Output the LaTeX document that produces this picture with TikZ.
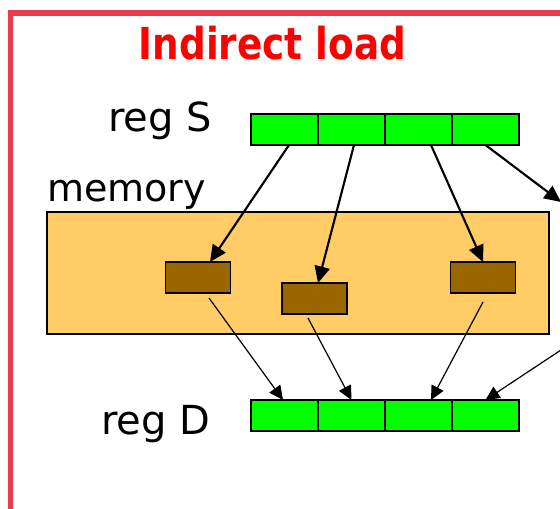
\documentclass[tikz,border=0pt]{standalone}
\usepackage{fontspec}
\setmainfont{DejaVu Sans}
\newfontfamily\titlefont[FakeStretch=0.85]{DejaVu Sans}
\usetikzlibrary{arrows.meta,calc}

\definecolor{framered}{RGB}{232,60,76}
\definecolor{titlered}{RGB}{255,0,0}
\definecolor{regfill}{RGB}{0,255,0}
\definecolor{memfill}{RGB}{255,204,102}
\definecolor{slotfill}{RGB}{153,102,0}

\tikzset{
  cell/.style={draw=black, line width=1.3pt, fill=regfill, minimum width=50.25pt,
    minimum height=23.25pt, inner sep=0pt, outer sep=0pt},
  slot/.style={draw=black, line width=1.3pt, fill=slotfill, minimum width=48.75pt,
    minimum height=23.25pt, inner sep=0pt, outer sep=0pt},
  label/.style={inner sep=0pt, font=\fontsize{30}{30}\selectfont, anchor=base west},
  fetch/.style={line width=1.6pt, -{Triangle[length=12.5pt,width=11.5pt]}},
  store/.style={line width=0.9pt, -{Triangle[length=10.5pt,width=10pt]}}
}

\begin{document}
\begin{tikzpicture}[x=0.75pt, y=-0.75pt]
  \useasboundingbox (0,0) rectangle (560,509);
  \clip (0,0) rectangle (560,509);
  \fill[white] (0,0) rectangle (560,509);

  % outer frame, running past the right and bottom edges
  \draw[framered, line width=4.2pt] (10.3,13) rectangle (600,540);

  % title
  \node[inner sep=0pt, anchor=base, text=titlered,
        font=\titlefont\bfseries\fontsize{33}{33}\selectfont] (title) at (272.5,60) {Indirect load};

  % memory block
  \node[draw=black, line width=1.5pt, fill=memfill, minimum width=376.5pt,
        minimum height=91.5pt, inner sep=0pt] (mem) at (298,273) {};
  \node[label, font=\fontsize{28.5}{28.5}\selectfont] (memlabel) at (47,202) {memory};

  % source register
  \node[label] (slabel) at (108,132) {reg S};
  \node[cell] (s1) at (284.5,129.5) {};
  \node[cell] (s2) at (351.5,129.5) {};
  \node[cell] (s3) at (418.5,129.5) {};
  \node[cell] (s4) at (485.5,129.5) {};

  % destination register
  \node[label] (dlabel) at (101,434) {reg D};
  \node[cell] (d1) at (284.5,415.5) {};
  \node[cell] (d2) at (351.5,415.5) {};
  \node[cell] (d3) at (418.5,415.5) {};
  \node[cell] (d4) at (485.5,415.5) {};

  % addressed memory words
  \node[slot] (b1) at (198,277.5) {};
  \node[slot] (b2) at (314.5,298.5) {};
  \node[slot] (b3) at (483,277.5) {};

  % off-picture ends
  \coordinate (outS) at (561,202);
  \coordinate (inD) at (561,350);

  % address fetches
  \draw[fetch] ($(s1.south)+(4.5,0)$) -- ($(b1.north)+(12,0)$);
  \draw[fetch] ($(s2.south)+(2.5,0)$) -- ($(b2.north)+(3.5,0)$);
  \draw[fetch] ($(s3.south)+(12.5,0)$) -- (b3.north);
  \draw[fetch] (s4.south) -- (outS);

  % loaded values
  \draw[store] ($(b1.south)+(11,5)$) -- ($(d1.north)+(-1.5,0)$);
  \draw[store] ($(b2.south)+(-6.5,4)$) -- (d2.north);
  \draw[store] ($(b3.south)+(0,9)$) -- ($(d3.north)+(12.5,0)$);
  \draw[store] (inD) -- (d4.north);
\end{tikzpicture}
\end{document}
